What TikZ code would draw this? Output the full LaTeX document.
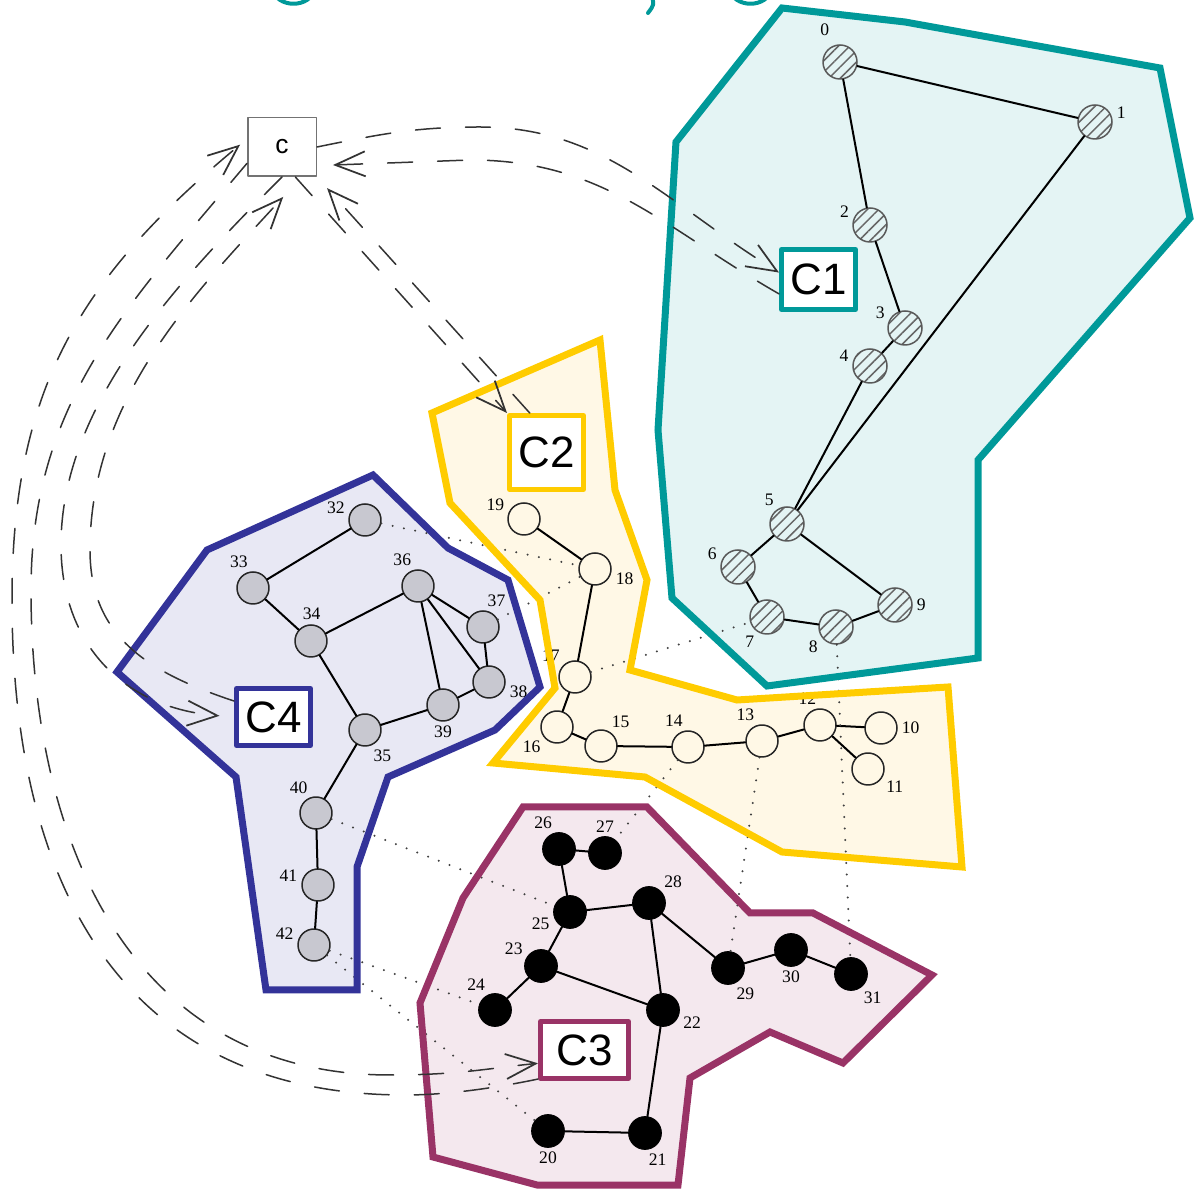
\documentclass[tikz,border=0pt]{standalone}
\usepackage{fontspec}
\setmainfont{Liberation Serif}
\setsansfont{Liberation Sans}
\usetikzlibrary{arrows.meta}
\usetikzlibrary{patterns.meta}

\definecolor{clteal}{RGB}{0,153,153}
\definecolor{clyellow}{RGB}{255,204,0}
\definecolor{clnavy}{RGB}{51,51,153}
\definecolor{clmaroon}{RGB}{153,51,102}
\definecolor{fillteal}{RGB}{228,244,244}
\definecolor{fillyellow}{RGB}{255,248,230}
\definecolor{fillnavy}{RGB}{232,232,244}
\definecolor{fillmaroon}{RGB}{244,232,238}
\definecolor{nodegray}{RGB}{200,200,208}

\tikzset{
  hnode/.style={circle,minimum size=6.8mm,inner sep=0pt,draw=black!65,line width=0.3mm,
    pattern={Lines[angle=45,distance=1.6mm,line width=0.3mm]},pattern color=black!60},
  wnode/.style={circle,minimum size=6.4mm,inner sep=0pt,draw=black!85,line width=0.3mm},
  gnode/.style={wnode,fill=nodegray},
  bnode/.style={circle,minimum size=6.6mm,inner sep=0pt,fill=black,draw=black},
  gline/.style={line width=0.4mm},
  xlink/.style={line width=0.45mm,dash pattern=on 0pt off 2.3mm,line cap=round,black!75},
  hull/.style={line width=1.4mm,line join=miter},
  clab/.style={draw,line width=1mm,fill=white,font=\sffamily\fontsize{25}{30}\selectfont,
    minimum width=14.8mm,minimum height=11.4mm,inner sep=0pt},
  cbox/.style={draw=black!55,line width=0.3mm,minimum width=13.7mm,minimum height=11.7mm,
    font=\sffamily\fontsize{15}{18}\selectfont},
  flow/.style={line width=0.3mm,black!80,dash pattern=on 5mm off 5mm,
    -{Straight Barb[length=6mm,width=5mm,line width=0.35mm]}},
  every label/.style={font=\fontsize{10}{12}\selectfont,inner sep=1pt},
}

\begin{document}
\begin{tikzpicture}[x=0.2mm,y=-0.2mm,line cap=round,line join=round,label distance=0.4mm]
\useasboundingbox (0,0) rectangle (1196,1190);

% cluster areas
\path[fill=fillteal,save path=\hullone] (782,8) -- (905,22) -- (1160,68) -- (1190,218) -- (978,460)
  -- (978,658) -- (767,686) -- (672,598) -- (658,430) -- (676,142) -- cycle;
\path[fill=fillyellow,save path=\hulltwo] (600,340) -- (615,490) -- (647,580) -- (630,670) -- (737,700)
  -- (948,687) -- (962,867) -- (782,852) -- (645,777) -- (493,763) -- (555,688) -- (540,600)
  -- (450,503) -- (432,413) -- cycle;
\path[fill=fillnavy,save path=\hullfour] (373,475) -- (448,548) -- (508,580) -- (540,687) -- (495,730)
  -- (388,777) -- (357,867) -- (357,990) -- (266,990) -- (236,777) -- (117,672) -- (207,550) -- cycle;
\path[fill=fillmaroon,save path=\hullthree] (523,807) -- (647,807) -- (750,913) -- (813,913) -- (932,975)
  -- (843,1063) -- (770,1032) -- (690,1078) -- (678,1185) -- (537,1185) -- (433,1157) -- (420,1003)
  -- (463,898) -- cycle;

% graph, first cluster
\node[hnode,label={[label distance=1.6mm]110:0}] (n0) at (840,62) {};
\node[hnode,label=5:1] (n1) at (1095,122) {};
\node[hnode,label=163:2] (n2) at (870,225) {};
\node[hnode,label=158:3] (n3) at (905,328) {};
\node[hnode,label=172:4] (n4) at (870,366) {};
\node[hnode,label=125:5] (n5) at (787,524) {};
\node[hnode,label=166:6] (n6) at (738,567) {};
\node[hnode,label=237:7] (n7) at (767,617) {};
\node[hnode,label=215:8] (n8) at (836,627) {};
\node[hnode,label=0:9] (n9) at (895,605) {};

% second cluster
\node[wnode,label=160:19] (n19) at (524,519) {};
\node[wnode,label=355:18] (n18) at (595,569) {};
\node[wnode,label=135:17] (n17) at (575,677) {};
\node[wnode,label=220:16] (n16) at (557,727) {};
\node[wnode,label=62:15] (n15) at (601,746) {};
\node[wnode,label=100:14] (n14) at (688,747) {};
\node[wnode,label=108:13] (n13) at (762,741) {};
\node[wnode,label=95:12] (n12) at (820,725) {};
\node[wnode,label=0:10] (n10) at (881,728) {};
\node[wnode,label=330:11] (n11) at (868,769) {};

% fourth cluster
\node[gnode,label=167:32] (n32) at (365,520) {};
\node[gnode,label=100:33] (n33) at (253,588) {};
\node[gnode,label=88:34] (n34) at (311,641) {};
\node[gnode,label=105:36] (n36) at (418,586) {};
\node[gnode,label=82:37] (n37) at (483,627) {};
\node[gnode,label=355:38] (n38) at (489,682) {};
\node[gnode,label=270:39] (n39) at (443,705) {};
\node[gnode,label=290:35] (n35) at (365,730) {};
\node[gnode,label=110:40] (n40) at (316,813) {};
\node[gnode,label=175:41] (n41) at (318,885) {};
\node[gnode,label=170:42] (n42) at (314,945) {};

% third cluster
\node[bnode,label=105:26] (n26) at (559,849) {};
\node[bnode,label=90:27] (n27) at (605,853) {};
\node[bnode,label=190:25] (n25) at (570,912) {};
\node[bnode,label=45:28] (n28) at (649,903) {};
\node[bnode,label=150:23] (n23) at (541,966) {};
\node[bnode,label=115:24] (n24) at (495,1010) {};
\node[bnode,label=345:22] (n22) at (663,1010) {};
\node[bnode,label=290:29] (n29) at (728,968) {};
\node[bnode,label=270:30] (n30) at (791,950) {};
\node[bnode,label=305:31] (n31) at (851,974) {};
\node[bnode,label=270:20] (n20) at (548,1131) {};
\node[bnode,label=275:21] (n21) at (645,1133) {};

% edges inside the clusters
\draw[gline] (n0) -- (n1) (n0) -- (n2) (n2) -- (n3) (n3) -- (n4) (n4) -- (n5) (n1) -- (n5)
  (n5) -- (n6) (n6) -- (n7) (n7) -- (n8) (n8) -- (n9) (n9) -- (n5);
\draw[gline] (n19) -- (n18) (n18) -- (n17) (n17) -- (n16) (n16) -- (n15) (n15) -- (n14)
  (n14) -- (n13) (n13) -- (n12) (n12) -- (n10) (n12) -- (n11);
\draw[gline] (n32) -- (n33) (n33) -- (n34) (n34) -- (n36) (n34) -- (n35) (n36) -- (n37)
  (n36) -- (n38) (n36) -- (n39) (n37) -- (n38) (n38) -- (n39) (n39) -- (n35) (n35) -- (n40)
  (n40) -- (n41) (n41) -- (n42);
\draw[gline] (n26) -- (n27) (n26) -- (n25) (n25) -- (n28) (n25) -- (n23) (n23) -- (n24)
  (n23) -- (n22) (n28) -- (n22) (n28) -- (n29) (n29) -- (n30) (n30) -- (n31) (n22) -- (n21)
  (n21) -- (n20);

% edges between clusters
\draw[xlink] (n32) -- (n18) (n37) -- (n18) (n17) -- (n7) (n8) -- (n31) (n13) -- (n29)
  (n14) -- (n27) (n40) -- (n25) (n42) -- (n24) (n42) -- (n20);

% cluster borders
\draw[hull,clteal,use path=\hullone];
\draw[hull,clyellow,use path=\hulltwo];
\draw[hull,clnavy,use path=\hullfour];
\draw[hull,clmaroon,use path=\hullthree];

% bits of the heading
\draw[clteal,line width=0.8mm] (272,-12) .. controls (276,9) and (311,9) .. (315,-12);
\draw[clteal,line width=0.8mm] (652,-4) .. controls (654,5) .. (648,13);
\draw[clteal,line width=0.8mm] (729,-12) .. controls (733,9) and (768,9) .. (772,-12);

% summary node and cluster boxes
\node[cbox] (c) at (282,147) {c};
\node[clab,draw=clteal,minimum height=12mm] (C1) at (818.5,279.5) {C1};
\node[clab,draw=clyellow,minimum height=14.8mm] (C2) at (546.5,452.5) {C2};
\node[clab,draw=clmaroon,minimum width=17.6mm] (C3) at (584.5,1050) {C3};
\node[clab,draw=clnavy] (C4) at (273.5,717) {C4};

% messages between c and the clusters
\draw[flow] (c.east) .. controls (381,134) and (415,127) .. (480,127)
  .. controls (605,127) and (666,203) .. (C1.170);
\draw[flow,shorten >=3.2mm] (C1.200) .. controls (662,227) and (604,160) .. (470,160) -- (c.-28);
\draw[flow] (c.-66) -- (C2.north west);
\draw[flow,shorten >=3mm] (C2.113) -- (c.south east);
\draw[flow] (c.205) .. controls (128,305) and (31,402) .. (31,590)
  .. controls (31,850) and (135,1075) .. (390,1075) .. controls (460,1075) and (490,1068) .. (C3.196);
\draw[flow,shorten >=1.8mm] (C3.212) .. controls (500,1087) and (450,1095) .. (405,1095)
  .. controls (121,1095) and (12,884) .. (12,600) .. controls (12,386) and (82,276) .. (c.167);
\draw[flow,shorten >=2.9mm] (c.south) .. controls (180,279) and (61,404) .. (61,545)
  .. controls (61,644) and (123,708) .. (C4.west);
\draw[flow,shorten >=5.4mm] (C4.158) .. controls (150,673) and (90,638) .. (90,550)
  .. controls (90,397) and (198,290) .. (c.-57);
\end{tikzpicture}
\end{document}
